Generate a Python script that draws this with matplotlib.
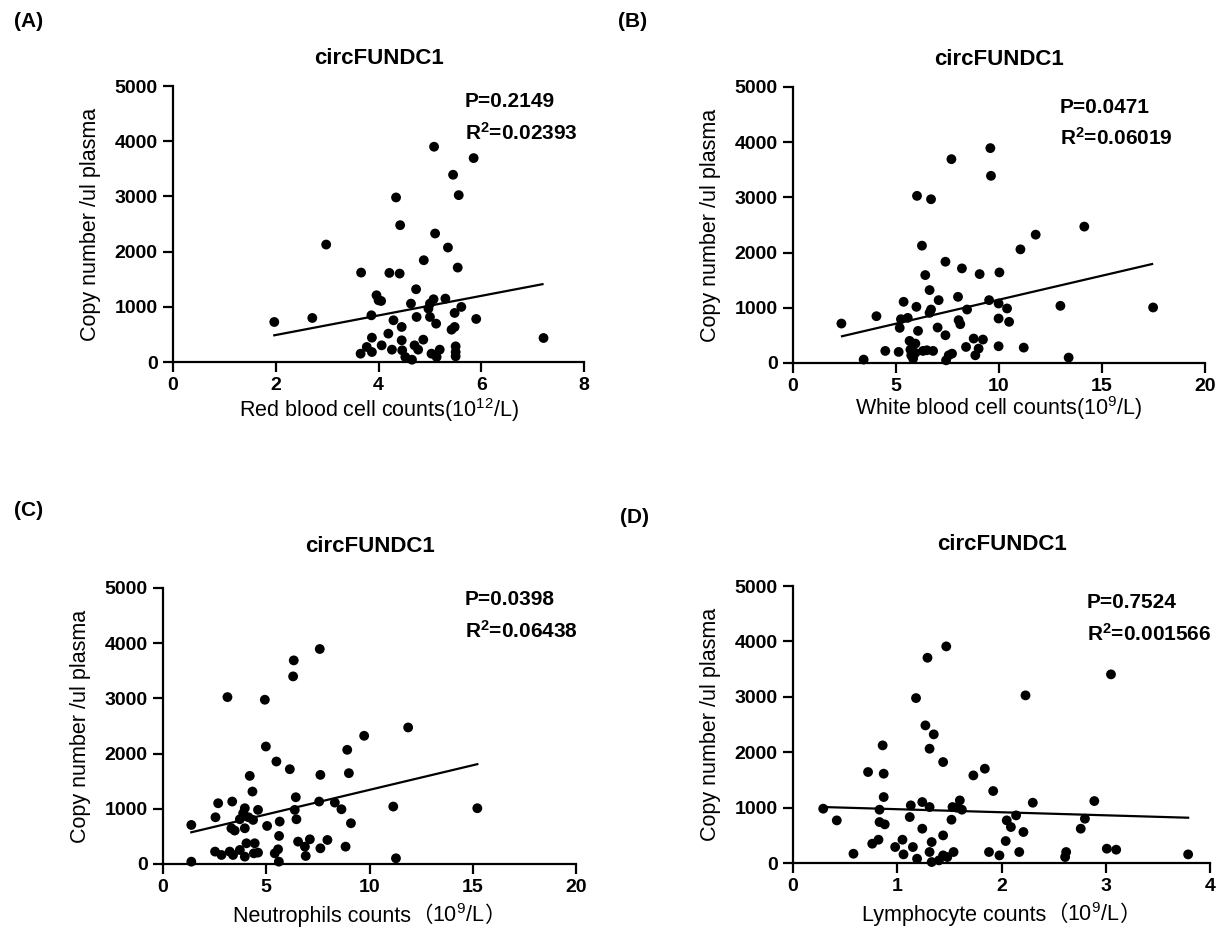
import numpy as np
import matplotlib
matplotlib.use("Agg")
import matplotlib.pyplot as plt
from matplotlib.offsetbox import TextArea, HPacker, AnchoredOffsetbox

plt.rcParams['font.family'] = ['Liberation Sans', 'Noto Sans CJK SC', 'DejaVu Sans']
plt.rcParams['mathtext.default'] = 'regular'

# ---- data (x = blood count, y = copy number /ul plasma) ----
rbc_x = [1.97, 2.71, 2.98, 3.66, 3.86, 3.87, 3.77, 3.65, 3.87, 3.96, 4.00, 4.05, 4.06, 4.19,
         4.21, 4.29, 4.34, 4.26, 4.42, 4.41, 4.45, 4.45, 4.46, 4.52, 4.65, 4.63, 4.73, 4.74,
         4.70, 4.77, 4.87, 4.88, 4.97, 5.00, 5.00, 5.03, 5.08, 5.10, 5.07, 5.12, 5.19, 5.13,
         5.30, 5.35, 5.42, 5.48, 5.48, 5.45, 5.54, 5.56, 5.61, 5.50, 5.50, 5.50, 5.85, 5.90, 7.21]
rbc_y = [725, 798, 2128, 1620, 846, 441, 272, 151, 181, 1209, 1118, 1106, 302, 514,
         1614, 756, 2981, 224, 2479, 1602, 635, 393, 212, 91, 42, 1058, 1318, 816,
         302, 224, 405, 1844, 967, 1058, 816, 151, 3900, 2328, 1137, 695, 224, 91,
         1149, 2074, 586, 635, 889, 3392, 1711, 3023, 998, 284, 181, 103, 3694, 780, 435]

wbc_x = [2.35, 3.43, 4.05, 4.48, 5.13, 5.18, 5.24, 5.37, 5.57, 5.66, 5.70, 5.74, 5.83, 5.94,
         5.99, 6.02, 6.07, 5.94, 6.26, 6.31, 6.42, 6.50, 6.63, 6.70, 6.70, 6.63, 6.80, 7.07,
         7.02, 7.40, 7.40, 7.43, 7.56, 7.72, 7.69, 8.01, 8.04, 8.12, 8.20, 8.40, 8.45, 8.77,
         8.85, 9.01, 9.06, 9.22, 9.52, 9.58, 9.61, 9.98, 9.98, 10.02, 9.98, 10.39, 10.49,
         11.04, 11.20, 11.78, 12.98, 13.38, 14.14, 17.48]
wbc_y = [714, 61, 847, 218, 200, 636, 793, 1108, 817, 400, 242, 139, 79, 351,
         1017, 3027, 581, 182, 2125, 218, 1592, 230, 1320, 2966, 968, 908, 218, 1138,
         642, 502, 1834, 48, 139, 169, 3692, 1198, 775, 702, 1713, 290, 968, 442,
         139, 260, 1610, 424, 1138, 3892, 3390, 303, 1077, 1640, 805, 987, 745,
         2058, 278, 2324, 1035, 97, 2470, 1005]

neu_x = [1.37, 1.37, 2.54, 2.67, 2.52, 2.83, 3.12, 3.23, 3.35, 3.31, 3.47, 3.39, 3.72, 3.72,
         3.96, 3.88, 3.96, 4.04, 3.96, 4.14, 4.20, 4.33, 4.36, 4.44, 4.40, 4.60, 4.60, 4.98,
         4.93, 5.04, 5.49, 5.62, 5.57, 5.41, 5.61, 5.65, 6.14, 6.30, 6.33, 6.43, 6.38, 6.46,
         6.54, 6.87, 6.91, 7.11, 7.56, 7.59, 7.62, 7.62, 7.96, 8.32, 8.64, 8.84, 8.92, 9.00,
         9.10, 9.74, 11.15, 11.28, 11.87, 15.22]
neu_y = [707, 42, 846, 1100, 224, 163, 3023, 224, 1131, 647, 605, 163, 810, 254,
         1010, 919, 647, 375, 133, 846, 1596, 1312, 798, 375, 193, 980, 206, 2128,
         2975, 689, 1856, 508, 266, 193, 42, 768, 1717, 3398, 3688, 1209, 980, 810,
         405, 314, 145, 447, 1131, 3894, 1614, 284, 435, 1112, 991, 314, 2068, 1645,
         738, 2322, 1040, 103, 2473, 1010]

lym_x = [0.29, 0.42, 0.58, 0.72, 0.76, 0.82, 0.83, 0.86, 0.87, 0.87, 0.83, 0.88, 0.98, 1.05,
         1.06, 1.12, 1.13, 1.15, 1.18, 1.19, 1.24, 1.24, 1.27, 1.29, 1.31, 1.31, 1.31, 1.33,
         1.33, 1.35, 1.40, 1.44, 1.44, 1.44, 1.47, 1.48, 1.52, 1.53, 1.54, 1.57, 1.60, 1.62,
         1.73, 1.84, 1.88, 1.92, 1.98, 2.04, 2.05, 2.09, 2.14, 2.17, 2.21, 2.23, 2.30, 2.62,
         2.61, 2.76, 2.80, 2.89, 3.01, 3.05, 3.10, 3.79]
lym_y = [981, 770, 168, 1643, 349, 421, 963, 2124, 1613, 1191, 740, 698, 289, 421,
         156, 830, 1041, 289, 2978, 78, 1101, 620, 2485, 3706, 1011, 199, 2064, 379,
         18, 2323, 48, 499, 1823, 138, 3911, 108, 782, 1011, 199, 999, 1131, 963,
         1582, 1703, 199, 1300, 138, 397, 770, 650, 860, 199, 560, 3027, 1089, 199,
         108, 620, 800, 1119, 259, 3406, 241, 156]

# regression line ends as drawn in the reference (x, fitted copy number)
fit_x = [[1.97, 7.19], [2.38, 17.43], [1.37, 15.22], [0.29, 3.79]]
fit_y = [[484, 1410], [484, 1792], [574, 1808], [1011, 818]]

panel_tags = ['(A)', '(B)', '(C)', '(D)']
x_names = ['Red blood cell counts', 'White blood cell counts',
           'Neutrophils counts', 'Lymphocyte counts']
x_units = ['10$^{12}$/L', '10$^{9}$/L', '10$^{9}$/L', '10$^{9}$/L']
x_fullwidth = [False, False, True, True]
x_limits = [8, 20, 20, 4]
x_steps = [2, 5, 5, 1]
p_values = ['0.2149', '0.0471', '0.0398', '0.7524']
r2_values = ['0.02393', '0.06019', '0.06438', '0.001566']

series = [(rbc_x, rbc_y), (wbc_x, wbc_y), (neu_x, neu_y), (lym_x, lym_y)]

# axes boxes in figure fraction (left, bottom, width, height)
boxes = [(0.1415, 0.6161, 0.3361, 0.2927),
         (0.6484, 0.6151, 0.3369, 0.2927),
         (0.1333, 0.0838, 0.3377, 0.2927),
         (0.6484, 0.0848, 0.3410, 0.2937)]
stats_pos = [(0.71, 0.945, 0.83), (0.648, 0.925, 0.815),
             (0.731, 0.96, 0.845), (0.705, 0.94, 0.827)]
title_pad = [16, 16, 26, 26]
xlabel_y = [-0.175, -0.165, -0.187, -0.186]
tag_pos = [(0.023, 0.977), (0.517, 0.977), (0.023, 0.459), (0.519, 0.451)]

fig = plt.figure(figsize=(12.23, 9.43), dpi=100)

for i in range(4):
    ax = fig.add_axes(boxes[i])
    x = np.array(series[i][0])
    y = np.array(series[i][1])
    ax.scatter(x, y, s=50, color='black', edgecolors='none', zorder=3, clip_on=False)
    ax.plot(fit_x[i], fit_y[i], color='black', linewidth=1.6, zorder=2)

    ax.set_xlim(0, x_limits[i])
    ax.set_ylim(0, 5000)
    ax.set_xticks(np.arange(0, x_limits[i] + 0.01, x_steps[i]))
    ax.set_yticks(np.arange(0, 5001, 1000))
    for side in ['top', 'right']:
        ax.spines[side].set_visible(False)
    for side in ['left', 'bottom']:
        ax.spines[side].set_linewidth(1.6)
    ax.tick_params(direction='out', length=7, width=1.6, pad=4, labelsize=14)
    for lab in ax.get_xticklabels() + ax.get_yticklabels():
        lab.set_fontweight('bold')

    ax.set_title('circFUNDC1', fontsize=16, fontweight='bold', pad=title_pad[i])
    ax.set_ylabel('Copy number /ul plasma', fontsize=15.5, labelpad=10)

    # x label: plain text + superscript unit, CJK full-width brackets where used
    lab_props = dict(fontsize=15.5, family='Liberation Sans')
    cjk_props = dict(fontsize=15.5, family='Noto Sans CJK SC')
    if x_fullwidth[i]:
        parts = [TextArea(x_names[i], textprops=lab_props),
                 TextArea('（', textprops=cjk_props),
                 TextArea(x_units[i], textprops=lab_props),
                 TextArea('）', textprops=cjk_props)]
    else:
        parts = [TextArea(x_names[i] + '(' + x_units[i] + ')', textprops=lab_props)]
    pack = HPacker(children=parts, align='baseline', pad=0, sep=0)
    box = AnchoredOffsetbox(loc='center', child=pack, pad=0, borderpad=0, frameon=False,
                            bbox_to_anchor=(0.5, xlabel_y[i]), bbox_transform=ax.transAxes)
    ax.add_artist(box)

    px, py1, py2 = stats_pos[i]
    ax.text(px, py1, 'P=' + p_values[i], transform=ax.transAxes,
            fontsize=15, fontweight='bold', va='center', ha='left')
    ax.text(px, py2, 'R$^{2}$=' + r2_values[i], transform=ax.transAxes,
            fontsize=15, fontweight='bold', va='center', ha='left')

    fig.text(tag_pos[i][0], tag_pos[i][1], panel_tags[i], fontsize=15,
             fontweight='bold', va='center', ha='center')

fig.savefig('out.png', dpi=100, facecolor='white')
